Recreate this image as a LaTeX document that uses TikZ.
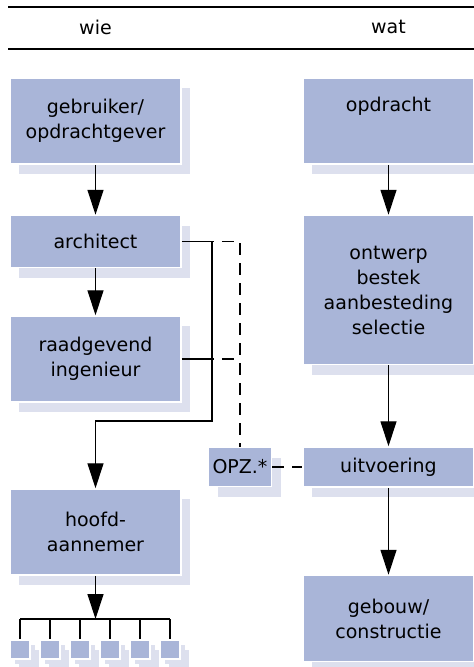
\documentclass[tikz,border=0pt]{standalone}
\usepackage{fontspec}
\setmainfont{DejaVu Sans}
\usetikzlibrary{positioning, arrows.meta, shadows}
\definecolor{boxblue}{RGB}{169,181,216}
\definecolor{boxshade}{RGB}{221,224,238}
\tikzset{
>={Triangle[length=25pt, width=16pt]}, % big filled arrow heads
node distance=50pt, % gap between two boxes of one column
every node/.style={font=\fontsize{19}{25}\selectfont, align=center}, % text in all nodes
box/.style={fill=boxblue, draw=white, line width=1.5pt, minimum width=171pt, inner sep=0pt,
  drop shadow={shadow xshift=9pt, shadow yshift=-10pt, fill=boxshade, opacity=1}}, % blue box with flat shadow
smallbox/.style={box, minimum width=20pt, minimum height=19pt,
  drop shadow={shadow xshift=5pt, shadow yshift=-5pt, fill=boxshade, opacity=1}}, % the little boxes at the bottom
link/.style={line width=1.2pt}, % solid connectors
optional/.style={line width=1.2pt, dash pattern=on 12pt off 8pt}, % dashed connectors
rule/.style={line width=1.4pt}, % header rules
}
\begin{document}
\begin{tikzpicture}[x=1pt, y=1pt]
    \useasboundingbox (0,0) rectangle (474,-667);
    % header
    \draw[rule] (8,-7) -- (474,-7);
    \draw[rule] (8,-49) -- (474,-49);
    \node (wie) at (95.5,-27) {wie};
    \node (wat) at (388.5,-27) {wat};
    % left column
    \node[box, minimum height=86pt] (gebruiker) at (95.5,-121) {gebruiker/\\opdrachtgever};
    \node[box, minimum height=52pt, below=of gebruiker] (architect) {architect};
    \node[box, minimum height=86pt, below=47pt of architect] (raadgevend) {raadgevend\\ingenieur};
    \node[box, minimum height=86pt] (hoofd) at (95.5,-532) {hoofd-\\aannemer};
    \foreach \i in {0,...,5}
        \node[smallbox] (sub\i) at (20+30*\i,-649.5) {};
    % right column
    \node[box, minimum height=86pt] (opdracht) at (388.5,-121) {opdracht\\\strut};
    \node[box, minimum height=149pt, below=of opdracht] (ontwerp) {ontwerp\\bestek\\aanbesteding\\selectie};
    \node[box, minimum height=40pt] (uitvoering) at (388.5,-467) {uitvoering};
    \node[box, minimum height=86pt, below=87pt of uitvoering] (gebouw) {gebouw/\\constructie};
    \node[box, minimum width=63pt, minimum height=39pt, left=30pt of uitvoering] (opz) {OPZ.*};
    \coordinate (bus) at (212,-421);
    \coordinate (split) at (hoofd.south |- 0,-619);
    % connectors
    \draw[link, ->] (gebruiker) -- (architect);
    \draw[link, ->] (architect) -- (raadgevend);
    \draw[link, ->] (architect.east) -| (bus) -| (hoofd.north);
    \draw[link] (raadgevend.east) -- (raadgevend.east -| bus);
    \draw[link, ->] (hoofd.south) -- (split);
    \draw[link] (sub0.north |- split) -- (sub5.north |- split);
    \foreach \i in {0,...,5}
        \draw[link] (sub\i.north |- split) -- (sub\i.north);
    \draw[optional] (architect.east) -| (opz.north);
    \draw[optional] (raadgevend.east) -- (raadgevend.east -| opz.north);
    \draw[optional] (opz.east) -- (uitvoering.west);
    \draw[link, ->] (opdracht) -- (ontwerp);
    \draw[link, ->] (ontwerp) -- (uitvoering);
    \draw[link, ->] (uitvoering) -- (gebouw);
\end{tikzpicture}
\end{document}
